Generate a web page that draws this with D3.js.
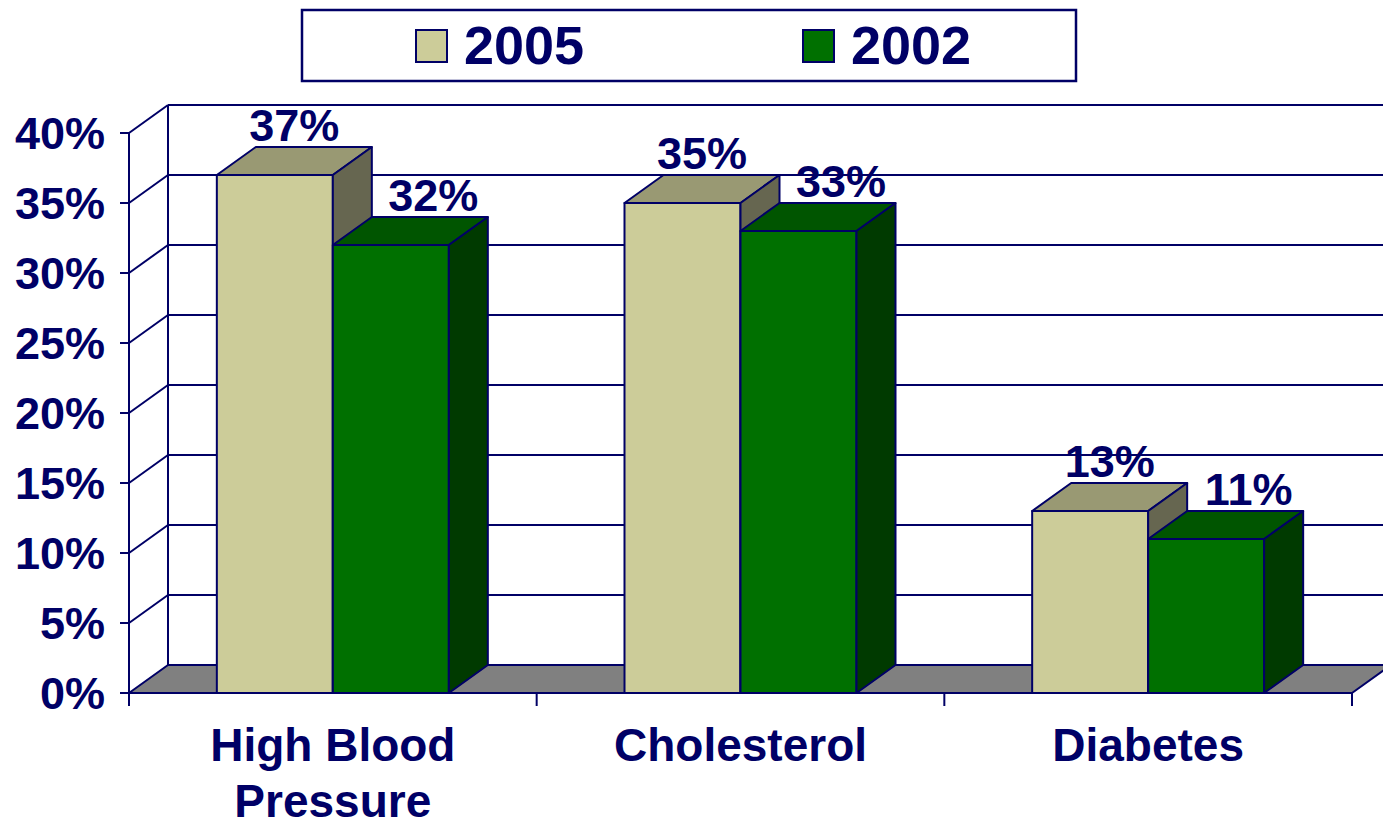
<!DOCTYPE html>
<html>
<head>
<meta charset="utf-8">
<script src="https://cdn.jsdelivr.net/npm/d3@7"></script>
<style>
  html, body { margin: 0; padding: 0; background: #fff; }
  svg { display: block; }
  text { font-family: "Liberation Sans", Arial, sans-serif; font-weight: bold; fill: #000066; }
</style>
</head>
<body>
<svg id="chart" width="1383" height="823"></svg>
<script>
// Survey results: share of respondents per condition, two survey years
const categories = [["High Blood", "Pressure"], ["Cholesterol"], ["Diabetes"]];
const seriesNames = ["2005", "2002"];
const values2005 = [37, 35, 13];
const values2002 = [32, 33, 11];
const yTicks = [0, 5, 10, 15, 20, 25, 30, 35, 40];

const seriesValues = [values2005, values2002];
const palette = [
  { front: "#CCCC99", top: "#999973", side: "#666650" },
  { front: "#007000", top: "#005500", side: "#003a00" }
];
const ink = "#000066";

const svg = d3.select("#chart");

// plot frame: front plane plus an oblique depth offset
const x0 = 129, x1 = 1352;
const depth = { dx: 39, dy: -28 };

const y = d3.scaleLinear().domain([0, 40]).range([693, 133]);
const catKeys = categories.map((c, i) => i);
const xCat = d3.scaleBand().domain(catKeys).range([x0, x1]).padding(0);
const barW = 116;
const xSer = d3.scaleBand().domain(seriesNames).range([-barW, barW]).padding(0);

const pt = (px, py) => [px, py];
const back = (px, py) => [px + depth.dx, py + depth.dy];

// back wall gridlines
const gBack = svg.append("g");
gBack.selectAll("line.grid")
  .data(yTicks)
  .join("line")
  .attr("x1", x0 + depth.dx).attr("x2", x1 + depth.dx)
  .attr("y1", d => y(d) + depth.dy).attr("y2", d => y(d) + depth.dy)
  .attr("stroke", ink).attr("stroke-width", 2);

// back wall left edge
gBack.append("line")
  .attr("x1", x0 + depth.dx).attr("x2", x0 + depth.dx)
  .attr("y1", y(40) + depth.dy).attr("y2", y(0) + depth.dy)
  .attr("stroke", ink).attr("stroke-width", 2);

// side wall diagonals
gBack.selectAll("line.side")
  .data(yTicks.filter(d => d > 0))
  .join("line")
  .attr("x1", x0).attr("y1", d => y(d))
  .attr("x2", x0 + depth.dx).attr("y2", d => y(d) + depth.dy)
  .attr("stroke", ink).attr("stroke-width", 2);

// floor
const floorPts = [pt(x0, y(0)), pt(x1, y(0)), back(x1, y(0)), back(x0, y(0))];
svg.append("polygon")
  .attr("points", floorPts.map(p => p.join(",")).join(" "))
  .attr("fill", "#808080")
  .attr("stroke", ink).attr("stroke-width", 2).attr("stroke-linejoin", "round");

// bars as oblique boxes
const barData = [];
catKeys.forEach(ci => {
  seriesNames.forEach((s, si) => {
    barData.push({ ci, si, s, v: seriesValues[si][ci] });
  });
});

const gBars = svg.append("g");
barData.forEach(b => {
  const cx = xCat(b.ci) + xCat.bandwidth() / 2;
  const left = cx + xSer(b.s);
  const right = left + xSer.bandwidth();
  const top = y(b.v), bottom = y(0);
  const col = palette[b.si];
  const poly = (pts, fill) => gBars.append("polygon")
    .attr("points", pts.map(p => p.join(",")).join(" "))
    .attr("fill", fill)
    .attr("stroke", ink).attr("stroke-width", 2).attr("stroke-linejoin", "round");
  // front face
  poly([pt(left, top), pt(right, top), pt(right, bottom), pt(left, bottom)], col.front);
  // top face
  poly([pt(left, top), pt(right, top), back(right, top), back(left, top)], col.top);
  // right side face
  poly([pt(right, top), back(right, top), back(right, bottom), pt(right, bottom)], col.side);
});

// value labels above each box
const labelShift = [0, 23];
svg.append("g").selectAll("text")
  .data(barData)
  .join("text")
  .attr("x", b => xCat(b.ci) + xCat.bandwidth() / 2 + xSer(b.s) + xSer.bandwidth() / 2 + depth.dx / 2 + labelShift[b.si])
  .attr("y", b => y(b.v) + depth.dy - 6)
  .attr("text-anchor", "middle")
  .attr("font-size", 45)
  .text(b => b.v + "%");

// front value axis
const gAxis = svg.append("g");
gAxis.append("line")
  .attr("x1", x0).attr("x2", x0)
  .attr("y1", y(40)).attr("y2", y(0) + 13)
  .attr("stroke", ink).attr("stroke-width", 2);
gAxis.append("line")
  .attr("x1", x0).attr("x2", x1)
  .attr("y1", y(0)).attr("y2", y(0))
  .attr("stroke", ink).attr("stroke-width", 2);
gAxis.selectAll("line.ytick")
  .data(yTicks)
  .join("line")
  .attr("x1", x0 - 9).attr("x2", x0)
  .attr("y1", d => y(d)).attr("y2", d => y(d))
  .attr("stroke", ink).attr("stroke-width", 2);
gAxis.selectAll("text.ylab")
  .data(yTicks)
  .join("text")
  .attr("x", 105)
  .attr("y", d => y(d) + 16)
  .attr("text-anchor", "end")
  .attr("font-size", 45)
  .text(d => d + "%");

// category ticks
const catEdges = catKeys.map(k => xCat(k)).concat([x1]);
gAxis.selectAll("line.xtick")
  .data(catEdges)
  .join("line")
  .attr("x1", d => d).attr("x2", d => d)
  .attr("y1", y(0)).attr("y2", y(0) + 13)
  .attr("stroke", ink).attr("stroke-width", 2);

// category labels
const gCat = svg.append("g");
categories.forEach((lines, ci) => {
  const t = gCat.append("text")
    .attr("x", xCat(ci) + xCat.bandwidth() / 2)
    .attr("y", 761)
    .attr("text-anchor", "middle")
    .attr("font-size", 46);
  lines.forEach((ln, li) => {
    t.append("tspan")
      .attr("x", xCat(ci) + xCat.bandwidth() / 2)
      .attr("dy", li === 0 ? 0 : 56)
      .text(ln);
  });
});

// legend
const gLeg = svg.append("g");
gLeg.append("rect")
  .attr("x", 302).attr("y", 10).attr("width", 774).attr("height", 71)
  .attr("fill", "#fff").attr("stroke", ink).attr("stroke-width", 2.5);
const legX = [416, 803];
seriesNames.forEach((s, si) => {
  gLeg.append("rect")
    .attr("x", legX[si]).attr("y", 30).attr("width", 31).attr("height", 32)
    .attr("fill", palette[si].front).attr("stroke", ink).attr("stroke-width", 2);
  gLeg.append("text")
    .attr("x", legX[si] + 48).attr("y", 64)
    .attr("font-size", 54)
    .text(s);
});
</script>
</body>
</html>
